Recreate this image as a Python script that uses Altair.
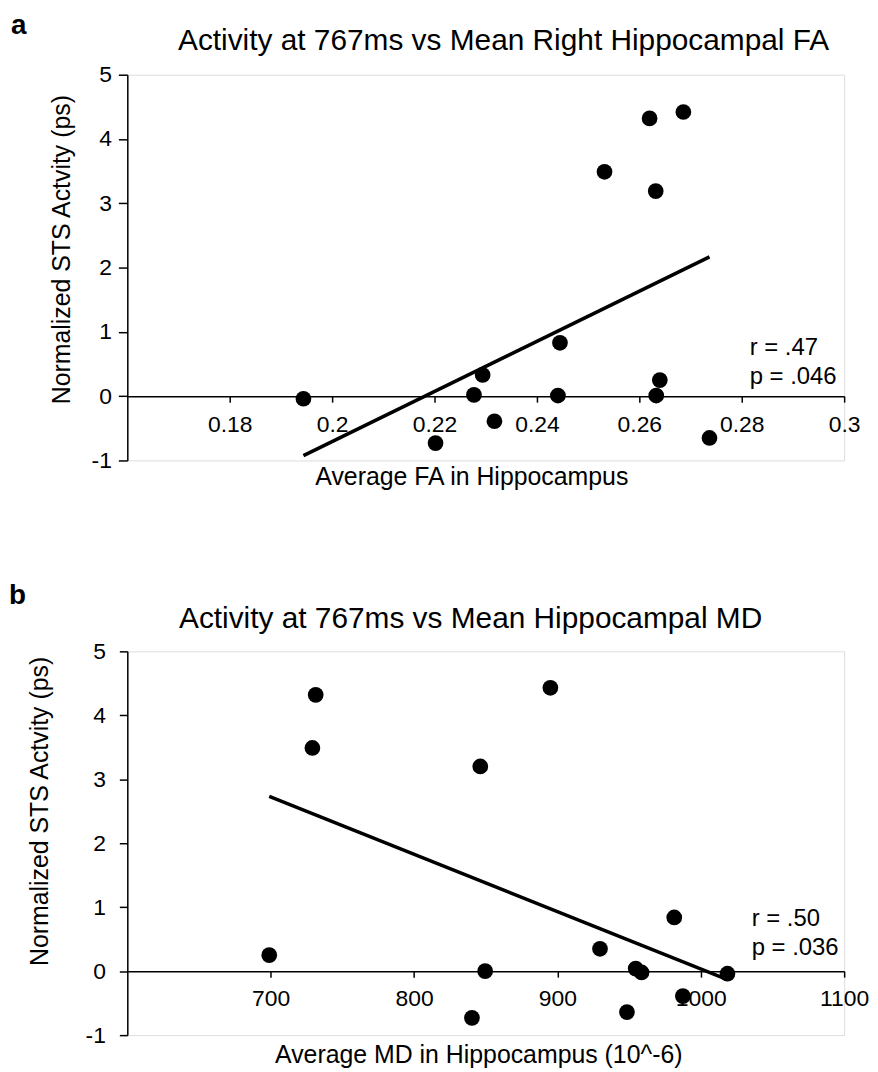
import altair as alt
import pandas as pd

FONT = "Liberation Sans"

# Panel a data
fa_values = [0.1944, 0.2277, 0.2294, 0.2317, 0.2202, 0.2445, 0.2441,
             0.2532, 0.2620, 0.2686, 0.2632, 0.2640, 0.2633, 0.2737]
act_a = [-0.04, 0.02, 0.33, -0.39, -0.73, 0.83, 0.01,
         3.49, 4.32, 4.42, 3.19, 0.25, 0.01, -0.65]

# Panel b data
md_values = [699, 731.4, 729.1, 846.2, 849.6, 840.4, 895.1,
             929.7, 954.6, 958.7, 948.5, 981.5, 987.5, 1018.6]
act_b = [0.25, 4.32, 3.49, 3.20, 0.0, -0.73, 4.43,
         0.35, 0.04, -0.02, -0.64, 0.84, -0.39, -0.04]

y_ticks = [-1, 0, 1, 2, 3, 4, 5]
fa_ticks = [0.18, 0.2, 0.22, 0.24, 0.26, 0.28, 0.3]
md_ticks = [700, 800, 900, 1000, 1100]

titles = ["Activity at 767ms vs Mean Right Hippocampal FA",
          "Activity at 767ms vs Mean Hippocampal MD"]
panel_labels = ["a", "b"]
stats = ["r = .47\np = .046", "r = .50\np = .036"]
x_titles = ["Average FA in Hippocampus", "Average MD in Hippocampus (10^-6)"]
y_title = "Normalized STS Actvity (ps)"


def panel(xv, yv, xdom, xticks, height, xtitle, title, label, stat,
          ytick, ylabpad, ytitle_x, ytitle_y, xlabpad, xtitle_x, xtitle_y,
          title_pos, label_pos, stat_pos):
    df = pd.DataFrame({"x": xv, "y": yv})
    W = 721
    zero_off = -height / 6.0
    xs = alt.Scale(domain=xdom, nice=False, zero=False)
    ys = alt.Scale(domain=[-1, 5], nice=False, zero=False)
    xaxis = alt.Axis(values=xticks, labelExpr="'' + datum.value", grid=False,
                     offset=zero_off, domainColor="black", domainWidth=1.5,
                     tickColor="black", tickWidth=1.5, tickSize=6,
                     labelPadding=xlabpad, labelFont=FONT, labelFontSize=23,
                     labelColor="black", labelFlush=False, labelOverlap=False,
                     title=xtitle, titleFont=FONT, titleFontSize=25,
                     titleFontWeight="normal", titleColor="black",
                     titleX=xtitle_x, titleY=xtitle_y,
                     titleBaseline="alphabetic", titleAlign="center")
    yaxis = alt.Axis(values=y_ticks, labelExpr="'' + datum.value", grid=False,
                     domainColor="black", domainWidth=1.5,
                     tickColor="black", tickWidth=1.5, tickSize=ytick,
                     labelPadding=ylabpad, labelFont=FONT, labelFontSize=23,
                     labelColor="black", labelFlush=False, labelOverlap=False,
                     title=y_title, titleFont=FONT, titleFontSize=25,
                     titleFontWeight="normal", titleColor="black",
                     titleX=ytitle_x, titleY=ytitle_y, titleAngle=270,
                     titleBaseline="middle", titleAlign="center")
    base = alt.Chart(df)
    pts = base.mark_circle(size=250, color="black", opacity=1).encode(
        x=alt.X("x:Q", scale=xs, axis=xaxis),
        y=alt.Y("y:Q", scale=ys, axis=yaxis),
    )
    reg = base.transform_regression("x", "y").mark_line(
        color="black", strokeWidth=3.5).encode(
        x=alt.X("x:Q", scale=xs), y=alt.Y("y:Q", scale=ys))
    tdf = pd.DataFrame({"t": [title]})
    ttl = alt.Chart(tdf).mark_text(font=FONT, fontSize=30, color="black",
                                   align="left", baseline="alphabetic").encode(
        text="t:N", x=alt.value(title_pos[0]), y=alt.value(title_pos[1]))
    ldf = pd.DataFrame({"t": [label]})
    lab = alt.Chart(ldf).mark_text(font=FONT, fontSize=28, fontWeight="bold",
                                   color="black", align="left",
                                   baseline="alphabetic").encode(
        text="t:N", x=alt.value(label_pos[0]), y=alt.value(label_pos[1]))
    sdf = pd.DataFrame({"t": [stat]})
    st = alt.Chart(sdf).mark_text(font=FONT, fontSize=24, color="black",
                                  align="left", baseline="alphabetic",
                                  lineBreak="\n", lineHeight=29).encode(
        text="t:N", x=alt.value(stat_pos[0]), y=alt.value(stat_pos[1]))
    return alt.layer(reg, pts, st, ttl, lab).properties(width=W, height=height)


pa = panel(fa_values, act_a, [0.16, 0.30], fa_ticks, 388, x_titles[0],
           titles[0], panel_labels[0], stats[0],
           ytick=9, ylabpad=7, ytitle_x=-66, ytitle_y=175.5,
           xlabpad=12, xtitle_x=346, xtitle_y=89.3,
           title_pos=(51, -25), label_pos=(-117, -41), stat_pos=(626, 282))
pb = panel(md_values, act_b, [600, 1100], md_ticks, 386, x_titles[1],
           titles[1], panel_labels[1], stats[1],
           ytick=8, ylabpad=14, ytitle_x=-88.5, ytitle_y=160.5,
           xlabpad=11, xtitle_x=353, xtitle_y=91.7,
           title_pos=(52, -23), label_pos=(-119, -48), stat_pos=(628, 276))

chart = alt.vconcat(pa, pb, spacing=192, bounds="flush").properties(
    padding=0
).configure_view(stroke=None).configure(background="white")

chart.save("out.html", embed_options={"renderer": "svg", "actions": False})
